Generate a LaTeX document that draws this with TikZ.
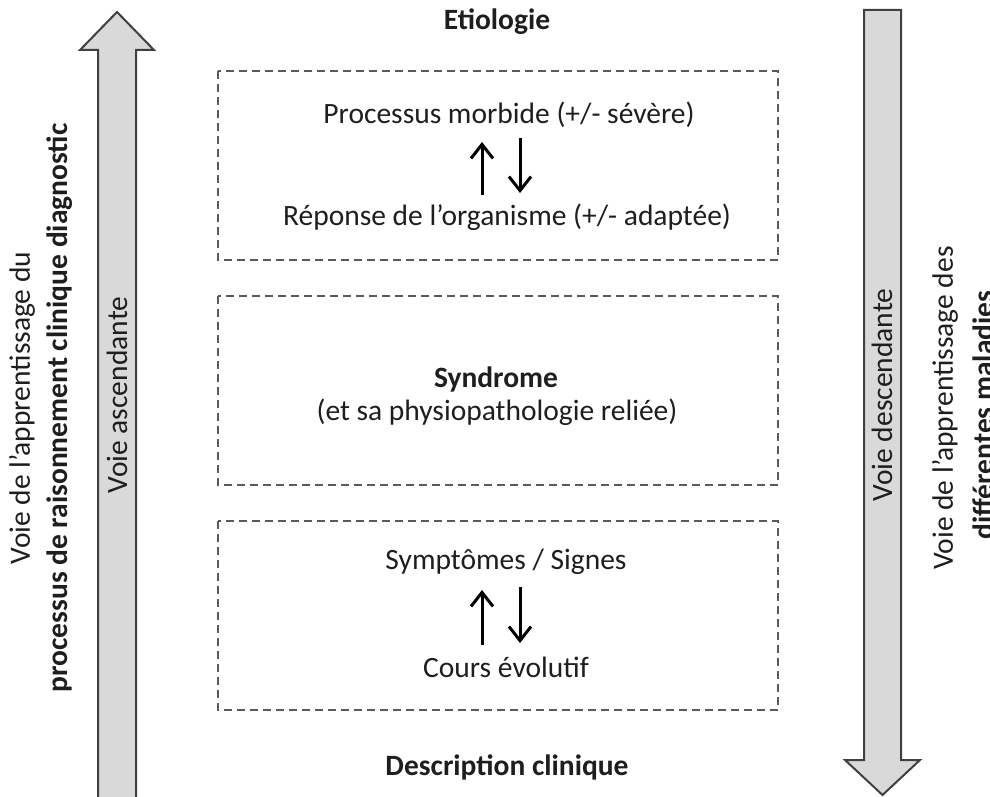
\documentclass[tikz,border=0pt]{standalone}
\usepackage{fontspec}
\setmainfont{Carlito}
\usetikzlibrary{arrows.meta}
\definecolor{txt}{HTML}{1E1E1E}
\definecolor{dashc}{HTML}{5A5A5A}
\definecolor{arrfill}{HTML}{D9D9D9}
\definecolor{arrline}{HTML}{404040}
\tikzset{
  lbl/.style={text=txt, font=\fontsize{29.5}{35}\selectfont, inner sep=0pt, align=center},
  blbl/.style={lbl, font=\fontsize{29.5}{35}\selectfont\bfseries},
  dbox/.style={draw=dashc, line width=2.8pt, dash pattern=on 8pt off 5pt},
  bigarrow/.style={draw=arrline, fill=arrfill, line width=2pt, line join=miter},
  smallarrow/.style={draw=black, line width=3pt, -{Straight Barb[length=14pt,width=22pt,line width=3pt]}},
}
\begin{document}
\begin{tikzpicture}[x=1pt,y=-1pt]
\useasboundingbox (0,0) rectangle (990,797);
% big arrows
\draw[bigarrow] (98,800) -- (98,50) -- (80,50) -- (117,12) -- (154,50) -- (136,50) -- (136,800);
\draw[bigarrow] (864,10) -- (901,10) -- (901,760) -- (920,760) -- (882.5,795) -- (845,760) -- (864,760) -- cycle;
\node[lbl, rotate=90] (asc) at (117,395) {Voie ascendante};
\node[lbl, rotate=90] (desc) at (882,395) {Voie descendante};
% side texts
\node[lbl, rotate=90] (left1) at (22,408) {Voie de l'apprentissage du};
\node[blbl, rotate=90] (left2) at (60,408) {processus de raisonnement clinique diagnostic};
\node[lbl, rotate=90] (right1) at (945,408) {Voie de l'apprentissage des};
\node[blbl, rotate=90] (right2) at (983,415) {différentes maladies};
% titles
\node[blbl] (etio) at (497,22) {Etiologie};
\node[blbl] (descl) at (507,767) {Description clinique};
% boxes
\draw[dbox] (218,71) rectangle (778,260);
\draw[dbox] (218,296) rectangle (778,485);
\draw[dbox] (218,521) rectangle (778,710);
% box 1
\node[lbl] (proc) at (509,115) {Processus morbide (+/- sévère)};
\node[lbl] (rep) at (507,217) {Réponse de l’organisme (+/- adaptée)};
\coordinate (u1a) at (482,195); \coordinate (u1b) at (482,142);
\coordinate (d1a) at (520,138); \coordinate (d1b) at (520,193);
\draw[smallarrow] (u1a) -- (u1b);
\draw[smallarrow] (d1a) -- (d1b);
% box 2
\node[blbl] (synd) at (496,379) {Syndrome};
\node[lbl] (physio) at (497,412) {(et sa physiopathologie reliée)};
% box 3
\node[lbl] (sympt) at (506,562) {Symptômes / Signes};
\node[lbl] (cours) at (506,667) {Cours évolutif};
\coordinate (u3a) at (482,645); \coordinate (u3b) at (482,590);
\coordinate (d3a) at (520,587); \coordinate (d3b) at (520,643);
\draw[smallarrow] (u3a) -- (u3b);
\draw[smallarrow] (d3a) -- (d3b);
\end{tikzpicture}
\end{document}
